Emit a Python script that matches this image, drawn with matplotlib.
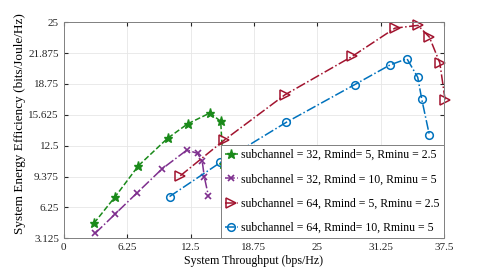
import numpy as np
import matplotlib
matplotlib.use('Agg')
import matplotlib.pyplot as plt

plt.rcParams['font.family'] = 'Liberation Serif'

# Dati
x_32_5 = [2.97, 5.08, 7.36, 10.23, 12.21, 14.42, 15.48, 15.71]
y_32_5 = [4.65, 7.35, 10.47, 13.24, 14.7, 15.81, 14.96, 10.64]

x_32_10 = [3.1, 5.05, 7.23, 9.7, 12.15, 13.2, 13.66, 13.86, 14.26]
y_32_10 = [3.64, 5.57, 7.73, 10.16, 12.06, 11.72, 10.9, 9.35, 7.45]

x_64_5 = [11.49, 15.84, 21.81, 28.48, 32.67, 34.95, 36.07, 37.1, 37.62]
y_64_5 = [9.45, 13.07, 17.64, 21.55, 24.39, 24.67, 23.48, 20.88, 17.16]

x_64_10 = [10.43, 15.45, 21.95, 28.71, 32.21, 33.86, 34.92, 35.32, 36.07]
y_64_10 = [7.35, 10.8, 14.86, 18.68, 20.68, 21.29, 19.42, 17.19, 13.58]

etichette = ['subchannel = 32, Rmind= 5, Rminu = 2.5',
             'subchannel = 32, Rmind = 10, Rminu = 5',
             'subchannel = 64, Rmind = 5, Rminu = 2.5',
             'subchannel = 64, Rmind= 10, Rminu = 5']

valori_x = [0, 6.25, 12.5, 18.75, 25, 31.25, 37.5]
valori_y = [3.125, 6.25, 9.375, 12.5, 15.625, 18.75, 21.875, 25]

fig = plt.figure(figsize=(4.91, 2.73), dpi=100)
ax = fig.add_axes([0.130, 0.127, 0.774, 0.792])

ax.plot(x_32_5, y_32_5, '--', color='#1a8a1a', marker='*', markersize=6.5, lw=1.1, label=etichette[0], clip_on=False)
ax.plot(x_32_10, y_32_10, '-.', color='#7E2F8E', marker='x', markersize=4, mew=1.2, lw=1.1, label=etichette[1], clip_on=False)
ax.plot(x_64_5, y_64_5, '-.', color='#A2142F', marker='>', markersize=6.5, mfc='none', mew=1.1, lw=1.1, label=etichette[2], clip_on=False)
ax.plot(x_64_10, y_64_10, '-.', color='#0072BD', marker='o', markersize=5.5, mfc='none', mew=1.1, lw=1.1, label=etichette[3], clip_on=False)

ax.set_xlim(0, 37.5)
ax.set_ylim(3.125, 25)
ax.set_xticks(valori_x)
ax.set_xticklabels(['0', '6.25', '12.5', '18.75', '25', '31.25', '37.5'])
ax.set_yticks(valori_y)
ax.set_yticklabels(['3.125', '6.25', '9.375', '12.5', '15.625', '18.75', '21.875', '25'])
ax.tick_params(direction='in', length=3, labelsize=8, colors='#262626', top=True, right=True)
ax.grid(True, color='#e6e6e6', lw=0.6)
for s in ax.spines.values():
    s.set_color('#808080')
    s.set_linewidth(0.7)

ax.set_xlabel('System Throughput (bps/Hz)', fontsize=8.6, labelpad=2)
ax.set_ylabel('System Energy Efficiency (bits/Joule/Hz)', fontsize=9.5, labelpad=2)
ax.yaxis.set_label_coords(-0.10, 0.53)

leg = ax.legend(loc='lower right', fontsize=8.5, frameon=True, fancybox=False,
                borderpad=0.35, labelspacing=1.05, handlelength=1.1, handletextpad=0.3,
                borderaxespad=0)
leg.get_frame().set_edgecolor('#808080')
leg.get_frame().set_linewidth(0.7)
leg.get_frame().set_alpha(1)
leg.set_zorder(5)

plt.savefig('out.png', dpi=100)
